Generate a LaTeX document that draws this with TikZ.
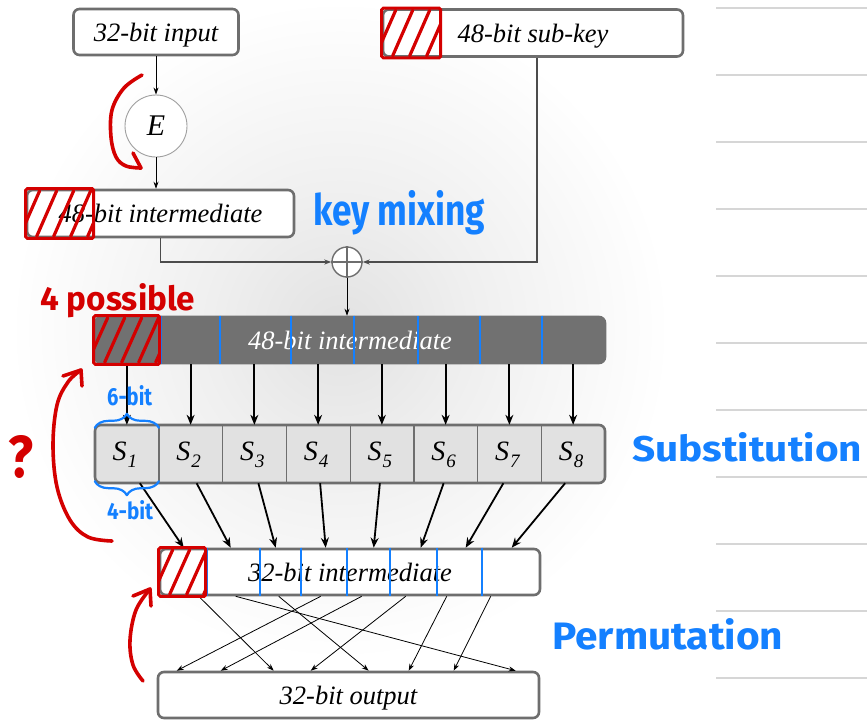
\documentclass[tikz,border=0pt]{standalone}
\usepackage{graphicx}
\usepackage{fontspec}
\setmainfont{Liberation Serif}
\newfontfamily\handfont{Fira Sans}
\usetikzlibrary{arrows.meta,calc,decorations.pathreplacing}

\definecolor{boxline}{HTML}{6E6E6E}
\definecolor{barfill}{HTML}{717171}
\definecolor{cellfill}{HTML}{E1E1E1}
\definecolor{penred}{HTML}{D40000}
\definecolor{penblue}{HTML}{1480FF}
\definecolor{ruleline}{HTML}{D6D6D6}
\definecolor{hazec}{HTML}{E2E2E2}
\colorlet{hazemid}{hazec!55!white}
% soft grey glow behind the diagram, fading to white at the rim
\pgfdeclareradialshading{haze}{\pgfpoint{0bp}{0bp}}{color(0bp)=(hazec); color(10bp)=(hazemid); color(25bp)=(white); color(50bp)=(white)}

% handwritten note, scaled to a given width and height
\newcommand{\handnote}[3]{\resizebox{#1}{#2}{\handfont\bfseries #3}}
% S-box label with subscript
\newcommand{\slabel}[1]{{\fontsize{28}{28}\selectfont\itshape S\kern1pt\raisebox{-7pt}{\fontsize{19}{19}\selectfont #1}}}
% red hatched block over the left end of a box
\newcommand{\hatchblock}[2]{%
  \begin{scope}
    \clip (#1.north west) rectangle ([xshift=#2pt]#1.south west);
    \foreach \k in {0,...,4}
      \draw[redpen, line width=3.2pt] ($(#1.south west)+({-6+17*\k},-2)$) -- ($(#1.north west)+({14+17*\k},2)$);
  \end{scope}
  \draw[draw=penred, line width=3pt, rounded corners=1.5pt] (#1.north west) rectangle ([xshift=#2pt]#1.south west);
}

\begin{document}
\begin{tikzpicture}[x=1pt,y=-1pt,
  box/.style={draw=boxline, line width=2.6pt, rounded corners=6pt, fill=white, inner sep=0pt,
    text height=18pt, text depth=0pt, font=\fontsize{26.5}{30}\selectfont\itshape},
  cell/.style={minimum width=63.75pt, minimum height=58pt, inner sep=0pt},
  thinarrow/.style={draw=black, line width=0.8pt, -{Stealth[length=7pt,width=5pt]}},
  greyarrow/.style={draw=black!70, line width=1.4pt, -{Stealth[length=7pt,width=5pt]}},
  sarrow/.style={draw=black, line width=1.8pt, -{Stealth[length=10pt,width=8pt]}},
  blueline/.style={draw=penblue, line width=2pt},
  redpen/.style={draw=penred, line width=3.6pt, line cap=round, line join=round},
  bluepen/.style={draw=penblue, line width=2.2pt, line cap=round, line join=round},
]
\fill[white] (0,0) rectangle (867,721);
\useasboundingbox (0,0) rectangle (867,721);
\shade[shading=haze] (340,330) circle (330);

% ruled lines of the notebook page
\foreach \yy in {8,75,...,678}
  \draw[ruleline, line width=1.5pt] (716,\yy) -- (867,\yy);

% boxes
\node[box, minimum width=165pt, minimum height=46pt] (in) at (156,32) {32-bit input};
\node[box, minimum width=300pt, minimum height=47pt] (key) at (533,33) {48-bit sub-key};
\node[circle, draw=gray!75, line width=0.9pt, fill=white, minimum size=62pt, inner sep=0pt,
      font=\fontsize{30}{30}\selectfont\itshape] (E) at (156,126) {E};
\node[box, minimum width=267pt, minimum height=47pt] (mid1) at (160.5,213.5) {48-bit intermediate};
\node[circle, draw=boxline, line width=1.4pt, fill=white, minimum size=30pt, inner sep=0pt] (xor) at (347,262) {};
\draw[boxline, line width=1.4pt] (xor.north) -- (xor.south) (xor.west) -- (xor.east);
\node[box, fill=barfill, draw=barfill, text=white, minimum width=510pt, minimum height=46pt] (bar) at (350,340) {48-bit intermediate};

% S-box row
\node[box, fill=cellfill, minimum width=510pt, minimum height=58pt] (srow) at (350,454) {};
\foreach \i in {1,...,8}
  \node[cell] (s\i) at ({95+63.75*(\i-0.5)},454) {};
\foreach \i in {1,...,7}
  \draw[boxline, line width=1.2pt] (s\i.north east) -- (s\i.south east);
\foreach \i in {1,...,8}
  \node[anchor=base, inner sep=0pt] at ($(s\i.center)+(-2,6)$) {\slabel{\i}};

\node[box, minimum width=380pt, minimum height=46pt] (mid2) at (350,572) {32-bit intermediate};
\node[box, minimum width=381pt, minimum height=46pt] (out) at (348.5,695) {32-bit output};

% connectors
\draw[thinarrow] (in.south) -- (in.south |- E.north);
\draw[thinarrow] (E.south) -- (E.south |- mid1.north);
\draw[greyarrow] (mid1.south) |- (xor.west);
\draw[greyarrow] ($(key.south)+(4,0)$) |- (xor.east);
\draw[thinarrow] (xor.south) -- (xor.south |- bar.north);
\foreach \i in {1,...,8}
  \draw[sarrow] (bar.south -| s\i.north) -- (s\i.north);
\foreach \i/\dx/\ex in {1/13/25, 2/6/72, 3/4/117, 4/2/167, 5/-2/215, 6/-2/262, 7/-6/307, 8/-8/353}
  \draw[sarrow] ([xshift=\dx pt]s\i.south) -- ([xshift=\ex pt]mid2.north west);
\foreach \sx/\ex in {40/117, 77/359, 120/212, 162/20, 203/64, 247/154, 288/252, 332/297}
  \draw[thinarrow] ([xshift=\sx pt]mid2.south west) -- ([xshift=\ex pt]out.north west);

% blue block boundaries
\foreach \o in {67,126,197,260,324,386,448}
  \draw[blueline] ([xshift=\o pt]bar.north west) -- ([xshift=\o pt]bar.south west);
\foreach \o in {48,101,142,188,231,278,323}
  \draw[blueline] ([xshift=\o pt]mid2.north west) -- ([xshift=\o pt]mid2.south west);

% red hatched blocks
\hatchblock{key}{59}
\hatchblock{mid1}{68}
\hatchblock{bar}{66}
\hatchblock{mid2}{47}

% red pen arrows
\draw[redpen] plot[smooth, tension=0.6] coordinates {(142,75) (124,88) (112,110) (111,137) (116,157) (126,166) (141,168)};
\draw[redpen] (141,168) -- (133,153);
\draw[redpen] plot[smooth, tension=0.6] coordinates {(112,541) (88,537) (70,520) (57,487) (53,445) (57,405) (68,382) (81,370)};
\draw[redpen] (63,376) -- (81,370) -- (82,386);
\draw[redpen] plot[smooth, tension=0.6] coordinates {(143,681) (133,665) (130,640) (136,610) (150,589)};
\draw[redpen] (133,596) -- (150,589) -- (151,606);

% red notes
\node[anchor=base west, inner sep=0pt, text=penred] at (40,310) {\handnote{155pt}{27pt}{4 possible}};
\node[anchor=base west, inner sep=0pt, text=penred] at (8,477) {\handnote{25pt}{42pt}{?}};

% blue braces and notes
\draw[bluepen, decorate, decoration={brace, amplitude=14pt}] ([yshift=-3pt]s1.north west) -- ([yshift=-3pt]s1.north east);
\draw[bluepen, decorate, decoration={brace, amplitude=14pt}] ([yshift=2pt]s1.south east) -- ([yshift=2pt]s1.south west);
\node[anchor=base west, inner sep=0pt, text=penblue] at (107,405) {\handnote{45pt}{20pt}{6-bit}};
\node[anchor=base west, inner sep=0pt, text=penblue] at (107,519) {\handnote{46pt}{19pt}{4-bit}};
\node[anchor=base west, inner sep=0pt, text=penblue] at (313,225) {\handnote{172pt}{35pt}{key mixing}};
\node[anchor=base west, inner sep=0pt, text=penblue] at (632,461) {\handnote{230pt}{29pt}{Substitution}};
\node[anchor=base west, inner sep=0pt, text=penblue] at (552,649) {\handnote{231pt}{31pt}{Permutation}};
\end{tikzpicture}
\end{document}
